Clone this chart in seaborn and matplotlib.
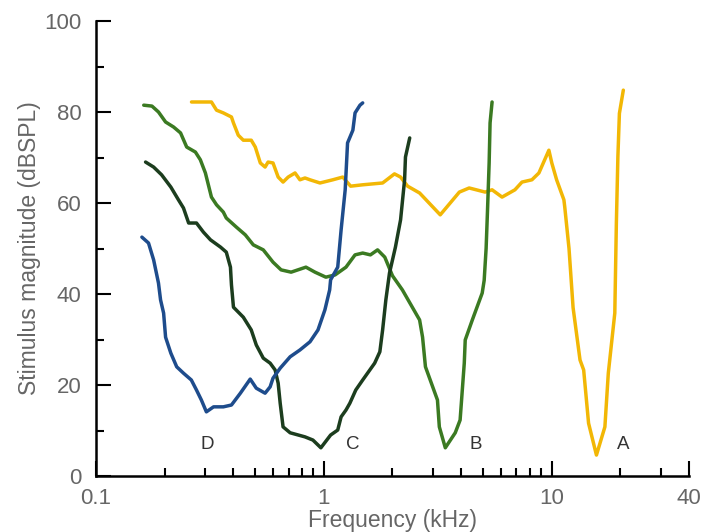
import numpy as np
import pandas as pd
import matplotlib
matplotlib.use('Agg')
import matplotlib.pyplot as plt
from matplotlib.ticker import FixedLocator, NullFormatter
import seaborn as sns

# tuning curves: frequency (kHz) and threshold (dB SPL)
a_freq = [0.2625, 0.321, 0.338, 0.362, 0.393, 0.401, 0.421, 0.443, 0.480, 0.500, 0.526, 0.552,
          0.569, 0.598, 0.630, 0.662, 0.697, 0.747, 0.785, 0.826, 0.869, 0.961, 1.094, 1.21,
          1.31, 1.48, 1.81, 2.04, 2.17, 2.33, 2.63, 3.24, 3.93, 4.34, 5.10, 5.47, 6.05, 6.89,
          7.40, 8.18, 8.78, 9.71, 10.0, 10.5, 11.3, 11.4, 11.9, 12.4, 13.3, 13.8, 14.5, 15.7,
          17.1, 17.7, 18.9, 19.2, 19.5, 19.8, 20.6]
a_db = [82.2, 82.2, 80.4, 79.8, 78.9, 77.6, 74.9, 73.8, 73.8, 72.3, 68.8, 67.9,
        69.0, 68.8, 65.7, 64.6, 65.7, 66.6, 65.1, 65.5, 65.1, 64.4, 65.1, 65.7,
        63.7, 64.0, 64.4, 66.4, 65.7, 63.7, 62.2, 57.4, 62.4, 63.3, 62.4, 62.9, 61.3, 62.9,
        64.6, 65.1, 66.6, 71.6, 68.8, 65.1, 60.7, 59.1, 50.0, 37.0, 25.5, 23.3, 11.6, 4.6,
        10.8, 22.6, 35.8, 55.5, 70.2, 79.7, 84.8]

b_freq = [0.162, 0.176, 0.188, 0.202, 0.219, 0.235, 0.250, 0.273, 0.287, 0.302, 0.321, 0.338,
          0.362, 0.373, 0.413, 0.452, 0.490, 0.542, 0.598, 0.649, 0.718, 0.834, 0.914, 1.02,
          1.12, 1.25, 1.37, 1.48, 1.60, 1.72, 1.85, 2.00, 2.21, 2.63, 2.71, 2.79, 3.15, 3.21,
          3.41, 3.77, 3.96, 4.13, 4.17, 4.48, 4.95, 5.05, 5.15, 5.22, 5.31, 5.36, 5.47]
b_db = [81.5, 81.3, 80.0, 77.8, 76.7, 75.4, 72.3, 71.2, 69.5, 66.6, 61.3, 59.6,
        58.0, 56.7, 54.7, 53.0, 50.8, 49.7, 47.0, 45.3, 44.8, 45.9, 44.8, 43.7,
        44.2, 45.9, 48.6, 49.0, 48.6, 49.7, 48.1, 44.0, 40.9, 34.3, 30.5, 24.0, 16.7, 10.8,
        6.2, 9.5, 12.3, 24.8, 29.9, 34.3, 40.2, 43.0, 50.0, 58.0, 68.8, 77.6, 82.2]

c_freq = [0.165, 0.179, 0.194, 0.213, 0.230, 0.242, 0.255, 0.276, 0.296, 0.318, 0.352, 0.373,
          0.389, 0.393, 0.401, 0.443, 0.480, 0.505, 0.542, 0.581, 0.611, 0.630, 0.643, 0.662,
          0.711, 0.826, 0.895, 0.970, 1.07, 1.15, 1.19, 1.25, 1.30, 1.38, 1.48, 1.67, 1.76,
          1.81, 1.87, 1.94, 2.06, 2.17, 2.26, 2.28, 2.38]
c_db = [69.0, 67.9, 66.2, 63.5, 60.7, 58.9, 55.6, 55.6, 53.6, 51.9, 50.3, 49.2,
        45.9, 42.0, 37.1, 34.9, 32.1, 28.8, 25.9, 24.8, 23.3, 20.4, 16.0, 10.8,
        9.5, 8.6, 7.9, 6.2, 9.0, 10.1, 13.0, 14.5, 16.0, 18.9, 21.1, 24.8, 27.3,
        32.1, 38.7, 44.6, 50.3, 56.3, 65.1, 70.1, 74.3]

d_freq = [0.159, 0.170, 0.179, 0.188, 0.192, 0.198, 0.202, 0.213, 0.226, 0.242, 0.262, 0.276,
          0.290, 0.305, 0.328, 0.362, 0.393, 0.430, 0.475, 0.505, 0.552, 0.581, 0.598, 0.643,
          0.711, 0.785, 0.869, 0.942, 1.01, 1.06, 1.07, 1.15, 1.19, 1.24, 1.27, 1.34, 1.37,
          1.44, 1.48]
d_db = [52.5, 51.2, 47.5, 42.4, 38.7, 35.8, 30.5, 27.0, 24.0, 22.6, 21.1, 18.9,
        16.7, 14.1, 15.2, 15.2, 15.6, 18.2, 21.3, 19.3, 18.2, 19.6, 21.5, 23.7,
        26.2, 27.7, 29.5, 32.1, 36.5, 40.9, 43.1, 45.9, 54.1, 62.9, 73.2, 76.0, 79.8,
        81.5, 82.0]

curve_names = ['A', 'B', 'C', 'D']
curve_colors = ['#F2B705', '#3B7A22', '#1C3D1E', '#1E4C8C']
label_freq = [20.6, 4.66, 1.34, 0.308]
label_db = [7.0, 7.0, 7.0, 7.0]

frames = []
for name, f, db in zip(curve_names, [a_freq, b_freq, c_freq, d_freq], [a_db, b_db, c_db, d_db]):
    frames.append(pd.DataFrame({'freq': f, 'db': db, 'unit': name, 'order': np.arange(len(f))}))
df = pd.concat(frames, ignore_index=True)

sns.set_style('ticks')
plt.rcParams['font.family'] = ['Liberation Sans', 'DejaVu Sans']

fig = plt.figure(figsize=(7.02, 5.32), dpi=100)
ax = fig.add_axes([96 / 702, 56 / 532, 593 / 702, 455 / 532])

sns.lineplot(data=df, x='freq', y='db', hue='unit', units='unit', estimator=None, sort=False,
             palette=dict(zip(curve_names, curve_colors)), linewidth=2.5, legend=False, ax=ax,
             solid_capstyle='round', solid_joinstyle='round')

for name, fx, fy in zip(curve_names, label_freq, label_db):
    ax.text(fx, fy, name, ha='center', va='center', fontsize=13.5, color='#333333')

ax.set_xscale('log')
ax.set_xlim(0.1, 40)
ax.set_ylim(0, 100)

ax.xaxis.set_major_locator(FixedLocator([0.1, 1, 10, 40]))
ax.xaxis.set_minor_locator(FixedLocator([0.2, 0.3, 0.4, 0.5, 0.6, 0.7, 0.8, 0.9,
                                         2, 3, 4, 5, 6, 7, 8, 9, 20, 30]))
ax.set_xticklabels(['0.1', '1', '10', '40'])
ax.xaxis.set_minor_formatter(NullFormatter())
ax.set_yticks([0, 20, 40, 60, 80, 100])
ax.yaxis.set_minor_locator(FixedLocator([10, 30, 50, 70, 90]))

ax.tick_params(which='major', direction='in', length=10.5, width=1.5, color='black',
               labelsize=16, labelcolor='#666666', pad=8.5)
ax.tick_params(axis='y', which='major', pad=10.5)
ax.tick_params(which='minor', direction='in', length=6, width=1.5, color='black')

for side in ['top', 'right']:
    ax.spines[side].set_visible(False)
for side in ['left', 'bottom']:
    ax.spines[side].set_linewidth(1.8)
    ax.spines[side].set_color('black')

ax.set_xlabel('Frequency (kHz)', fontsize=16.5, color='#666666', labelpad=0.5)
ax.set_ylabel('Stimulus magnitude (dBSPL)', fontsize=16.5, color='#666666', labelpad=2.5)

fig.savefig('out.png', dpi=100)
